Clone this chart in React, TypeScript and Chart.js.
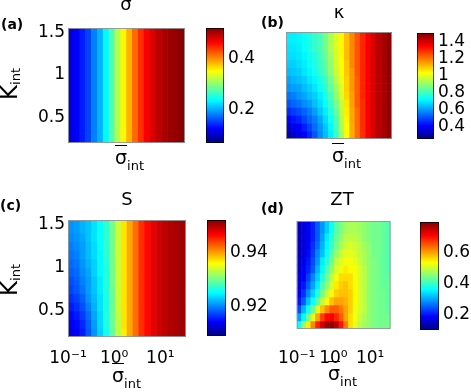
import React, { useEffect, useRef } from "react";
import { Chart, registerables } from "chart.js";

Chart.register(...registerables);

// ---------------- data ----------------
// column centres of the heat maps (sigma_int, log axis)
const SIGMA_INT = [0.116, 0.156, 0.209, 0.28, 0.376, 0.505, 0.677, 0.909, 1.22, 1.64, 2.2, 2.95, 3.96, 5.31, 7.13, 9.57, 12.8, 17.2, 23.1, 31.1];
const SIGMA_INT_MIN = 0.1;
const SIGMA_INT_MAX = 36;
const X_TICKS = [0.1, 1, 10];
const X_TICK_LABELS = ["10⁻¹", "10⁰", "10¹"];

// row edges of the heat maps (K_int), top to bottom
const K_INT_EDGES = [1.55, 1.4, 1.3, 1.2, 1.1, 1.0, 0.9, 0.8, 0.7, 0.6, 0.5, 0.4, 0.3, 0.2];
const K_TICKS = [0.5, 1, 1.5];
const K_TICK_LABELS = ["0.5", "1", "1.5"];

// (a) sigma : depends on sigma_int only
const SIGMA_VALUES = [0.115, 0.124, 0.138, 0.156, 0.183, 0.205, 0.237, 0.273, 0.318, 0.354, 0.385, 0.417, 0.444, 0.466, 0.48, 0.493, 0.502, 0.507, 0.511, 0.516];

// (b) kappa : rows top (K=1.5) -> bottom (K=0.2)
const KAPPA_VALUES = [
  [0.70, 0.70, 0.71, 0.73, 0.75, 0.78, 0.81, 0.86, 0.93, 0.99, 1.04, 1.11, 1.18, 1.24, 1.30, 1.35, 1.39, 1.43, 1.45, 1.48],
  [0.69, 0.69, 0.70, 0.73, 0.75, 0.78, 0.81, 0.86, 0.93, 0.99, 1.04, 1.11, 1.18, 1.24, 1.30, 1.35, 1.39, 1.43, 1.45, 1.48],
  [0.68, 0.68, 0.69, 0.71, 0.74, 0.76, 0.80, 0.85, 0.91, 0.98, 1.04, 1.11, 1.18, 1.24, 1.30, 1.35, 1.39, 1.43, 1.45, 1.48],
  [0.66, 0.66, 0.68, 0.70, 0.73, 0.75, 0.79, 0.84, 0.90, 0.98, 1.03, 1.10, 1.18, 1.24, 1.30, 1.35, 1.39, 1.43, 1.45, 1.48],
  [0.64, 0.65, 0.66, 0.69, 0.71, 0.74, 0.78, 0.83, 0.89, 0.96, 1.03, 1.10, 1.16, 1.24, 1.30, 1.35, 1.39, 1.43, 1.45, 1.48],
  [0.61, 0.63, 0.64, 0.66, 0.69, 0.71, 0.75, 0.80, 0.86, 0.94, 1.01, 1.09, 1.16, 1.23, 1.30, 1.35, 1.39, 1.43, 1.45, 1.48],
  [0.59, 0.60, 0.61, 0.64, 0.66, 0.69, 0.73, 0.78, 0.84, 0.91, 1.00, 1.09, 1.16, 1.23, 1.30, 1.35, 1.39, 1.43, 1.45, 1.48],
  [0.55, 0.56, 0.59, 0.61, 0.64, 0.66, 0.70, 0.75, 0.81, 0.89, 0.99, 1.08, 1.15, 1.23, 1.30, 1.35, 1.39, 1.43, 1.45, 1.48],
  [0.51, 0.53, 0.55, 0.58, 0.60, 0.64, 0.68, 0.73, 0.79, 0.86, 0.96, 1.06, 1.15, 1.23, 1.29, 1.35, 1.39, 1.43, 1.45, 1.48],
  [0.46, 0.48, 0.50, 0.53, 0.56, 0.60, 0.65, 0.70, 0.76, 0.84, 0.95, 1.05, 1.14, 1.21, 1.29, 1.35, 1.39, 1.43, 1.45, 1.48],
  [0.41, 0.43, 0.45, 0.49, 0.53, 0.56, 0.61, 0.68, 0.74, 0.81, 0.94, 1.04, 1.14, 1.21, 1.29, 1.35, 1.39, 1.43, 1.45, 1.48],
  [0.36, 0.38, 0.40, 0.44, 0.49, 0.54, 0.59, 0.65, 0.71, 0.80, 0.93, 1.03, 1.13, 1.21, 1.29, 1.35, 1.39, 1.43, 1.45, 1.48],
  [0.31, 0.34, 0.38, 0.41, 0.45, 0.51, 0.58, 0.64, 0.70, 0.79, 0.91, 1.03, 1.13, 1.21, 1.29, 1.35, 1.39, 1.43, 1.45, 1.48],
];

// (c) S : rows top -> bottom
const S_VALUES = [
  [0.9209, 0.9213, 0.9222, 0.9230, 0.9243, 0.9256, 0.9273, 0.9303, 0.9338, 0.9372, 0.9398, 0.9423, 0.9449, 0.9466, 0.9479, 0.9488, 0.9496, 0.9501, 0.9505, 0.9509],
  [0.9205, 0.9209, 0.9217, 0.9230, 0.9243, 0.9256, 0.9273, 0.9303, 0.9338, 0.9372, 0.9398, 0.9423, 0.9449, 0.9466, 0.9479, 0.9488, 0.9496, 0.9501, 0.9505, 0.9509],
  [0.9200, 0.9205, 0.9213, 0.9226, 0.9239, 0.9256, 0.9273, 0.9303, 0.9338, 0.9372, 0.9398, 0.9423, 0.9449, 0.9466, 0.9479, 0.9488, 0.9496, 0.9501, 0.9505, 0.9509],
  [0.9196, 0.9200, 0.9213, 0.9226, 0.9239, 0.9252, 0.9273, 0.9303, 0.9338, 0.9372, 0.9398, 0.9423, 0.9449, 0.9466, 0.9479, 0.9488, 0.9496, 0.9501, 0.9505, 0.9509],
  [0.9192, 0.9196, 0.9209, 0.9222, 0.9235, 0.9252, 0.9269, 0.9303, 0.9338, 0.9372, 0.9398, 0.9423, 0.9449, 0.9466, 0.9479, 0.9488, 0.9496, 0.9501, 0.9505, 0.9509],
  [0.9187, 0.9192, 0.9205, 0.9217, 0.9235, 0.9252, 0.9269, 0.9303, 0.9338, 0.9372, 0.9398, 0.9423, 0.9449, 0.9466, 0.9479, 0.9488, 0.9496, 0.9501, 0.9505, 0.9509],
  [0.9179, 0.9187, 0.9200, 0.9213, 0.9230, 0.9247, 0.9269, 0.9303, 0.9338, 0.9372, 0.9398, 0.9423, 0.9449, 0.9466, 0.9479, 0.9488, 0.9496, 0.9501, 0.9505, 0.9509],
  [0.9175, 0.9183, 0.9196, 0.9213, 0.9230, 0.9247, 0.9269, 0.9299, 0.9338, 0.9372, 0.9398, 0.9423, 0.9449, 0.9466, 0.9479, 0.9488, 0.9496, 0.9501, 0.9505, 0.9509],
  [0.9166, 0.9175, 0.9187, 0.9209, 0.9226, 0.9243, 0.9265, 0.9299, 0.9338, 0.9372, 0.9398, 0.9423, 0.9449, 0.9466, 0.9479, 0.9488, 0.9496, 0.9501, 0.9505, 0.9509],
  [0.9157, 0.9166, 0.9179, 0.9200, 0.9222, 0.9243, 0.9265, 0.9299, 0.9338, 0.9372, 0.9398, 0.9423, 0.9449, 0.9466, 0.9479, 0.9488, 0.9496, 0.9501, 0.9505, 0.9509],
  [0.9149, 0.9157, 0.9170, 0.9192, 0.9217, 0.9239, 0.9265, 0.9299, 0.9333, 0.9372, 0.9398, 0.9423, 0.9449, 0.9466, 0.9479, 0.9488, 0.9496, 0.9501, 0.9505, 0.9509],
  [0.9140, 0.9149, 0.9162, 0.9187, 0.9213, 0.9239, 0.9265, 0.9299, 0.9333, 0.9372, 0.9398, 0.9423, 0.9449, 0.9466, 0.9479, 0.9488, 0.9496, 0.9501, 0.9505, 0.9509],
  [0.9136, 0.9144, 0.9157, 0.9183, 0.9209, 0.9235, 0.9260, 0.9295, 0.9333, 0.9368, 0.9398, 0.9423, 0.9449, 0.9466, 0.9479, 0.9488, 0.9496, 0.9501, 0.9505, 0.9509],
];

// (d) ZT : rows top -> bottom
const ZT_VALUES = [
  [0.14, 0.16, 0.18, 0.21, 0.25, 0.29, 0.33, 0.37, 0.42, 0.45, 0.47, 0.48, 0.48, 0.47, 0.46, 0.45, 0.44, 0.44, 0.43, 0.42],
  [0.14, 0.16, 0.18, 0.21, 0.25, 0.30, 0.35, 0.39, 0.43, 0.46, 0.49, 0.49, 0.49, 0.48, 0.46, 0.45, 0.44, 0.44, 0.43, 0.42],
  [0.14, 0.16, 0.18, 0.22, 0.26, 0.31, 0.36, 0.40, 0.44, 0.48, 0.50, 0.51, 0.50, 0.49, 0.47, 0.46, 0.44, 0.44, 0.43, 0.42],
  [0.14, 0.16, 0.19, 0.23, 0.28, 0.32, 0.37, 0.42, 0.46, 0.50, 0.52, 0.52, 0.51, 0.49, 0.48, 0.46, 0.44, 0.44, 0.43, 0.42],
  [0.15, 0.17, 0.20, 0.24, 0.29, 0.35, 0.39, 0.44, 0.49, 0.52, 0.53, 0.53, 0.52, 0.50, 0.48, 0.46, 0.45, 0.44, 0.43, 0.42],
  [0.15, 0.18, 0.21, 0.25, 0.31, 0.36, 0.42, 0.46, 0.51, 0.53, 0.55, 0.54, 0.53, 0.51, 0.49, 0.46, 0.45, 0.44, 0.43, 0.42],
  [0.16, 0.18, 0.23, 0.28, 0.33, 0.38, 0.44, 0.49, 0.53, 0.56, 0.56, 0.56, 0.53, 0.51, 0.49, 0.46, 0.45, 0.44, 0.43, 0.43],
  [0.16, 0.20, 0.25, 0.30, 0.35, 0.41, 0.46, 0.51, 0.55, 0.57, 0.58, 0.56, 0.54, 0.51, 0.49, 0.46, 0.45, 0.44, 0.43, 0.43],
  [0.18, 0.22, 0.28, 0.33, 0.38, 0.44, 0.50, 0.54, 0.57, 0.58, 0.58, 0.57, 0.54, 0.51, 0.49, 0.46, 0.45, 0.44, 0.44, 0.43],
  [0.20, 0.25, 0.32, 0.37, 0.43, 0.49, 0.54, 0.58, 0.60, 0.60, 0.59, 0.57, 0.54, 0.51, 0.49, 0.46, 0.45, 0.44, 0.44, 0.43],
  [0.24, 0.31, 0.37, 0.44, 0.52, 0.58, 0.62, 0.65, 0.65, 0.63, 0.60, 0.57, 0.53, 0.51, 0.49, 0.46, 0.45, 0.44, 0.44, 0.43],
  [0.30, 0.36, 0.44, 0.52, 0.60, 0.67, 0.71, 0.72, 0.69, 0.65, 0.60, 0.56, 0.53, 0.50, 0.48, 0.46, 0.45, 0.44, 0.44, 0.44],
  [0.37, 0.46, 0.55, 0.62, 0.69, 0.74, 0.78, 0.79, 0.76, 0.70, 0.63, 0.56, 0.52, 0.49, 0.47, 0.46, 0.45, 0.44, 0.44, 0.44],
];

// colour limits and colour-bar ticks
const SIGMA_LIMITS = [0.07, 0.52];
const SIGMA_CB_TICKS = [0.2, 0.4];
const SIGMA_CB_LABELS = ["0.2", "0.4"];
const KAPPA_LIMITS = [0.25, 1.5];
const KAPPA_CB_TICKS = [0.4, 0.6, 0.8, 1, 1.2, 1.4];
const KAPPA_CB_LABELS = ["0.4", "0.6", "0.8", "1", "1.2", "1.4"];
const S_LIMITS = [0.9093, 0.9522];
const S_CB_TICKS = [0.92, 0.94];
const S_CB_LABELS = ["0.92", "0.94"];
const ZT_LIMITS = [0.1, 0.8];
const ZT_CB_TICKS = [0.2, 0.4, 0.6];
const ZT_CB_LABELS = ["0.2", "0.4", "0.6"];

// ---------------- helpers ----------------
const FONT = "'DejaVu Sans', 'Liberation Sans', sans-serif";
const TICK_SIZE = 17;

function jet(t: number): string {
  const u = Math.max(0, Math.min(1, t));
  const c = (v: number) => Math.round(255 * Math.max(0, Math.min(1, v)));
  const r = c(Math.min(4 * u - 1.5, -4 * u + 4.5));
  const g = c(Math.min(4 * u - 0.5, -4 * u + 3.5));
  const b = c(Math.min(4 * u + 0.5, -4 * u + 2.5));
  return `rgb(${r},${g},${b})`;
}

const JET_STOPS: [number, string][] = [
  [0, "rgb(0,0,128)"],
  [0.125, "rgb(0,0,255)"],
  [0.375, "rgb(0,255,255)"],
  [0.625, "rgb(255,255,0)"],
  [0.875, "rgb(255,0,0)"],
  [1, "rgb(128,0,0)"],
];

const framePlugin = {
  id: "frame",
  afterDatasetsDraw(chart: any) {
    const { ctx, chartArea: a } = chart;
    ctx.save();
    ctx.strokeStyle = "rgba(150,150,150,0.9)";
    ctx.lineWidth = 1;
    ctx.strokeRect(a.left + 0.5, a.top + 0.5, a.width - 1, a.height - 1);
    ctx.restore();
  },
};

type Box = { x0: number; y0: number; x1: number; y1: number };

function Heatmap(props: {
  box: Box;
  grid: number[][];
  rowEdges: number[];
  limits: number[];
  showX: boolean;
  showY: boolean;
  xPad: number;
  left: number;
  bottom: number;
}) {
  const { box, grid, rowEdges, limits, showX, showY, xPad, left, bottom } = props;
  const ref = useRef<HTMLCanvasElement>(null);
  const TOP = 16;
  const RIGHT = 6;
  const w = box.x1 - box.x0 + left + RIGHT;
  const h = box.y1 - box.y0 + TOP + bottom;
  useEffect(() => {
    const datasets = grid.map((row, r) => ({
      data: row.map((v, i) => ({ x: SIGMA_INT[i], y: [rowEdges[r + 1], rowEdges[r]] })),
      backgroundColor: row.map((v) => jet((v - limits[0]) / (limits[1] - limits[0]))),
      borderWidth: 0,
      grouped: false,
      categoryPercentage: 1,
      barPercentage: 1,
    }));
    const chart = new Chart(ref.current as HTMLCanvasElement, {
      type: "bar",
      data: { datasets: datasets as any },
      options: {
        animation: false,
        responsive: false,
        maintainAspectRatio: false,
        events: [],
        layout: { padding: { left: 0, right: RIGHT, top: TOP, bottom: 0 } },
        plugins: { legend: { display: false }, tooltip: { enabled: false }, title: { display: false } },
        scales: {
          x: {
            type: "logarithmic",
            min: SIGMA_INT_MIN,
            max: SIGMA_INT_MAX,
            offset: false,
            grid: { display: false, drawTicks: false, offset: false },
            border: { display: false },
            ticks: {
              display: showX,
              autoSkip: false,
              maxRotation: 0,
              minRotation: 0,
              padding: xPad,
              color: "#000",
              font: { family: FONT, size: TICK_SIZE },
              callback: (_v: any, i: number) => X_TICK_LABELS[i],
            },
            afterBuildTicks: (s: any) => {
              s.ticks = X_TICKS.map((value) => ({ value }));
            },
            afterFit: (s: any) => {
              s.height = bottom;
            },
          },
          y: {
            type: "linear",
            min: K_INT_EDGES[K_INT_EDGES.length - 1],
            max: K_INT_EDGES[0],
            grid: { display: false, drawTicks: false },
            border: { display: false },
            ticks: {
              display: showY,
              autoSkip: false,
              padding: 3,
              color: "#000",
              font: { family: FONT, size: TICK_SIZE },
              callback: (_v: any, i: number) => K_TICK_LABELS[i],
            },
            afterBuildTicks: (s: any) => {
              s.ticks = K_TICKS.map((value) => ({ value }));
            },
            afterFit: (s: any) => {
              s.width = left;
            },
          },
        },
      } as any,
      plugins: [framePlugin],
    });
    return () => chart.destroy();
  }, []);
  return (
    <canvas
      ref={ref}
      width={w}
      height={h}
      style={{ position: "absolute", left: box.x0 - left, top: box.y0 - TOP, width: w, height: h }}
    />
  );
}

function Colorbar(props: { box: Box; limits: number[]; ticks: number[]; labels: string[] }) {
  const { box, limits, ticks, labels } = props;
  const ref = useRef<HTMLCanvasElement>(null);
  const PAD = 16;
  const LAB = 45;
  const w = box.x1 - box.x0 + LAB;
  const h = box.y1 - box.y0 + 2 * PAD;
  useEffect(() => {
    const chart = new Chart(ref.current as HTMLCanvasElement, {
      type: "bar",
      data: {
        labels: [""],
        datasets: [
          {
            data: [[limits[0], limits[1]]] as any,
            backgroundColor: (ctx: any) => {
              const a = ctx.chart.chartArea;
              if (!a) return "rgb(0,0,128)";
              const g = ctx.chart.ctx.createLinearGradient(0, a.bottom, 0, a.top);
              JET_STOPS.forEach(([o, c]) => g.addColorStop(o, c));
              return g;
            },
            borderColor: "#000",
            borderWidth: 1,
            borderSkipped: false,
            categoryPercentage: 1,
            barPercentage: 1,
          } as any,
        ],
      },
      options: {
        animation: false,
        responsive: false,
        maintainAspectRatio: false,
        events: [],
        layout: { padding: { left: 0, right: 0, top: PAD, bottom: PAD } },
        plugins: { legend: { display: false }, tooltip: { enabled: false } },
        scales: {
          x: { display: false },
          y: {
            position: "right",
            min: limits[0],
            max: limits[1],
            grid: { display: false, drawTicks: false },
            border: { display: false },
            ticks: {
              autoSkip: false,
              padding: 4,
              color: "#000",
              font: { family: FONT, size: TICK_SIZE },
              callback: (_v: any, i: number) => labels[i],
            },
            afterBuildTicks: (s: any) => {
              s.ticks = ticks.map((value) => ({ value }));
            },
            afterFit: (s: any) => {
              s.width = LAB;
            },
          },
        },
      } as any,
    });
    return () => chart.destroy();
  }, []);
  return (
    <canvas
      ref={ref}
      width={w}
      height={h}
      style={{ position: "absolute", left: box.x0, top: box.y0 - PAD, width: w, height: h }}
    />
  );
}

function Txt(props: { x: number; y: number; size: number; bold?: boolean; center?: boolean; children: any }) {
  const { x, y, size, bold, center, children } = props;
  return (
    <div
      style={{
        position: "absolute",
        left: x,
        top: y - 0.846 * size,
        fontSize: size,
        lineHeight: `${size}px`,
        fontWeight: bold ? "bold" : "normal",
        whiteSpace: "nowrap",
        transform: center ? "translateX(-50%)" : undefined,
      }}
    >
      {children}
    </div>
  );
}

function XTitle(props: { x: number; y: number }) {
  return (
    <Txt x={props.x} y={props.y} size={19}>
      <span style={{ textDecoration: "overline" }}>σ</span>
      <span style={{ fontSize: 13, position: "relative", top: 6 }}>int</span>
    </Txt>
  );
}

function YTitle(props: { cx: number; cy: number }) {
  return (
    <div
      style={{
        position: "absolute",
        left: props.cx,
        top: props.cy,
        transform: "translate(-50%,-50%) rotate(-90deg)",
        fontSize: 23,
        lineHeight: "23px",
        whiteSpace: "nowrap",
      }}
    >
      K<span style={{ fontSize: 13, position: "relative", top: 3 }}>int</span>
    </div>
  );
}

const SIGMA_ROW = [K_INT_EDGES[0], K_INT_EDGES[K_INT_EDGES.length - 1]];

export default function App() {
  return (
    <div
      style={{
        position: "fixed",
        left: 0,
        top: 0,
        width: 471,
        height: 392,
        background: "#fff",
        overflow: "hidden",
        fontFamily: FONT,
        color: "#000",
      }}
    >
      <Heatmap box={{ x0: 68, y0: 28, x1: 185, y1: 143 }} grid={[SIGMA_VALUES]} rowEdges={SIGMA_ROW} limits={SIGMA_LIMITS} showX={false} showY={true} xPad={11} left={45} bottom={16} />
      <Heatmap box={{ x0: 286, y0: 32, x1: 392, y1: 139 }} grid={KAPPA_VALUES} rowEdges={K_INT_EDGES} limits={KAPPA_LIMITS} showX={false} showY={false} xPad={11} left={30} bottom={16} />
      <Heatmap box={{ x0: 68, y0: 220, x1: 186, y1: 337 }} grid={S_VALUES} rowEdges={K_INT_EDGES} limits={S_LIMITS} showX={true} showY={true} xPad={11} left={45} bottom={36} />
      <Heatmap box={{ x0: 289, y0: 221, x1: 397, y1: 329 }} grid={ZT_VALUES} rowEdges={K_INT_EDGES} limits={ZT_LIMITS} showX={true} showY={false} xPad={19} left={30} bottom={44} />

      <Colorbar box={{ x0: 206, y0: 28, x1: 224, y1: 143 }} limits={SIGMA_LIMITS} ticks={SIGMA_CB_TICKS} labels={SIGMA_CB_LABELS} />
      <Colorbar box={{ x0: 417, y0: 33, x1: 434, y1: 139 }} limits={KAPPA_LIMITS} ticks={KAPPA_CB_TICKS} labels={KAPPA_CB_LABELS} />
      <Colorbar box={{ x0: 207, y0: 220, x1: 226, y1: 336 }} limits={S_LIMITS} ticks={S_CB_TICKS} labels={S_CB_LABELS} />
      <Colorbar box={{ x0: 420, y0: 222, x1: 439, y1: 330 }} limits={ZT_LIMITS} ticks={ZT_CB_TICKS} labels={ZT_CB_LABELS} />

      <Txt x={126} y={10} size={18} center>σ</Txt>
      <Txt x={339} y={18} size={18} center>κ</Txt>
      <Txt x={127} y={205} size={18} center>S</Txt>
      <Txt x={342} y={205} size={18} center>ZT</Txt>

      <Txt x={1} y={29} size={14} bold>(a)</Txt>
      <Txt x={261} y={27} size={14} bold>(b)</Txt>
      <Txt x={0} y={210} size={14} bold>(c)</Txt>
      <Txt x={261} y={213} size={14} bold>(d)</Txt>

      <XTitle x={115} y={164} />
      <XTitle x={332} y={162} />
      <XTitle x={112} y={382} />
      <XTitle x={328} y={380} />

      <YTitle cx={11} cy={84} />
      <YTitle cx={11} cy={280} />
    </div>
  );
}
